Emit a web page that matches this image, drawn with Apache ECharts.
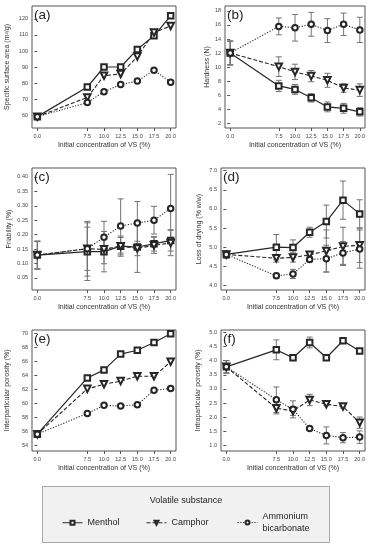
<!DOCTYPE html>
<html><head><meta charset="utf-8">
<script src="https://cdn.jsdelivr.net/npm/echarts@6/dist/echarts.min.js"></script>
<style>html,body{margin:0;padding:0;background:#fff}#c{width:372px;height:550px}</style>
</head><body><div id="c"></div>
<script>
// ---------- data ----------
const conc = [0, 7.5, 10, 12.5, 15, 17.5, 20];
const xTicks = [0, 7.5, 10, 12.5, 15, 17.5, 20];
const names = ['Menthol', 'Camphor', 'Ammonium\nbicarbonate'];

// (a) Specific surface area
const ssaMenthol = [59, 77.5, 90, 90, 101, 109.5, 122];
const ssaCamphor = [59, 71, 84.6, 85.6, 96.5, 111.5, 115.6];
const ssaAmmonium = [59, 67.8, 74.6, 79, 81.2, 88, 80.5];
const ssaTicks = [60, 70, 80, 90, 100, 110, 120];

// (b) Hardness
const hardMenthol = [12, 7.3, 6.8, 5.6, 4.3, 4.1, 3.6];
const hardMentholErr = [1.7, 0.8, 0.7, 0.6, 0.7, 0.7, 0.6];
const hardCamphor = [12, 10.05, 9.3, 8.7, 8.1, 7.0, 6.7];
const hardCamphorErr = [1.7, 1.4, 1.1, 0.8, 1.0, 0.6, 0.9];
const hardAmmonium = [12, 15.8, 15.6, 16.1, 15.2, 16.1, 15.3];
const hardAmmoniumErr = [1.7, 1.2, 1.9, 1.7, 1.7, 1.6, 1.8];
const hardTicks = [2, 4, 6, 8, 10, 12, 14, 16, 18];

// (c) Friability
const friMenthol = [0.129, 0.141, 0.141, 0.160, 0.157, 0.168, 0.180];
const friMentholErr = [0.048, 0.100, 0.070, 0.030, 0.088, 0.025, 0.037];
const friCamphor = [0.129, 0.151, 0.149, 0.160, 0.152, 0.163, 0.171];
const friCamphorErr = [0.048, 0.095, 0.050, 0.035, 0.025, 0.028, 0.044];
const friAmmonium = [0.129, 0.151, 0.191, 0.230, 0.240, 0.250, 0.291];
const friAmmoniumErr = [0.048, 0.075, 0.055, 0.094, 0.075, 0.048, 0.118];
const friTicks = [0.05, 0.10, 0.15, 0.20, 0.25, 0.30, 0.35, 0.40];

// (d) Loss of drying
const lodMenthol = [4.81, 5.00, 4.99, 5.39, 5.67, 6.23, 5.87];
const lodMentholErr = [0.09, 0.33, 0.20, 0.13, 0.43, 0.50, 0.37];
const lodCamphor = [4.81, 4.71, 4.73, 4.80, 4.90, 5.02, 5.05];
const lodCamphorErr = [0.09, 0.10, 0.12, 0.05, 0.55, 0.50, 0.45];
const lodAmmonium = [4.81, 4.25, 4.30, 4.68, 4.70, 4.85, 4.95];
const lodAmmoniumErr = [0.09, 0.07, 0.12, 0.07, 0.35, 0.30, 0.50];
const lodTicks = [4.0, 4.5, 5.0, 5.5, 6.0, 6.5, 7.0];

// (e) Interparticular porosity
const interMenthol = [55.6, 63.6, 64.75, 67.0, 67.55, 68.65, 69.9];
const interCamphor = [55.6, 62.05, 62.7, 63.15, 63.85, 63.85, 65.9];
const interAmmonium = [55.6, 58.55, 59.7, 59.6, 59.8, 61.85, 62.1];
const interTicks = [54, 56, 58, 60, 62, 64, 66, 68, 70];

// (f) Intraparticular porosity
const intraMenthol = [3.78, 4.38, 4.10, 4.64, 4.10, 4.70, 4.34];
const intraMentholErr = [0.22, 0.35, 0.05, 0.19, 0.03, 0.04, 0.03];
const intraCamphor = [3.78, 2.32, 2.22, 2.61, 2.46, 2.38, 1.81];
const intraCamphorErr = [0.22, 0.20, 0.15, 0.20, 0.05, 0.05, 0.20];
const intraAmmonium = [3.78, 2.62, 2.28, 1.60, 1.36, 1.28, 1.30];
const intraAmmoniumErr = [0.22, 0.45, 0.30, 0.05, 0.30, 0.18, 0.22];
const intraTicks = [1.0, 1.5, 2.0, 2.5, 3.0, 3.5, 4.0, 4.5, 5.0];

// ---------- layout / style ----------
const FONT = 'Liberation Sans, Arial, sans-serif';
const panels = [
  {lab:'(a)', grid:{left:32, top:6, width:144, height:122}, ymin:51.9, ymax:128.1, ticks:ssaTicks, dec:0,
   yname:'Specific surface area (m²/g)', gap:21,
   vals:[ssaMenthol, ssaCamphor, ssaAmmonium], errs:null},
  {lab:'(b)', grid:{left:225, top:6, width:140, height:122}, ymin:1.29, ymax:18.71, ticks:hardTicks, dec:0,
   yname:'Hardness (N)', gap:7,
   vals:[hardMenthol, hardCamphor, hardAmmonium], errs:[hardMentholErr, hardCamphorErr, hardAmmoniumErr]},
  {lab:'(c)', grid:{left:32, top:168, width:144, height:122}, ymin:0.008, ymax:0.431, ticks:friTicks, dec:2,
   yname:'Friability (%)', gap:19,
   vals:[friMenthol, friCamphor, friAmmonium], errs:[friMentholErr, friCamphorErr, friAmmoniumErr]},
  {lab:'(d)', grid:{left:221, top:168, width:144, height:122}, ymin:3.88, ymax:7.07, ticks:lodTicks, dec:1,
   yname:'Loss of drying (% w/w)', gap:18,
   vals:[lodMenthol, lodCamphor, lodAmmonium], errs:[lodMentholErr, lodCamphorErr, lodAmmoniumErr]},
  {lab:'(e)', grid:{left:32, top:330, width:144, height:121}, ymin:53.2, ymax:70.43, ticks:interTicks, dec:0,
   yname:'Interparticular porosity (%)', gap:21,
   vals:[interMenthol, interCamphor, interAmmonium], errs:null},
  {lab:'(f)', grid:{left:221, top:330, width:144, height:121}, ymin:0.81, ymax:5.08, ticks:intraTicks, dec:1,
   yname:'Intraparticular porosity (%)', gap:19,
   vals:[intraMenthol, intraCamphor, intraAmmonium], errs:[intraMentholErr, intraCamphorErr, intraAmmoniumErr]}
];

const seriesStyle = [
  {symbol:'emptyRect', symbolSize:5.5, symbolRotate:0, lineType:'solid', lw:1.2},
  {symbol:'emptyTriangle', symbolSize:6.5, symbolRotate:180, lineType:[4, 2], lw:1.1},
  {symbol:'emptyCircle', symbolSize:5.5, symbolRotate:0, lineType:[1.2, 1.6], lw:1.1}
];
const LINE = '#262626';
const ERR = '#737373';

function errRender(params, api) {
  const x = api.value(0), lo = api.value(1), hi = api.value(2);
  const p1 = api.coord([x, hi]), p2 = api.coord([x, lo]);
  const w = 3;
  const st = {stroke: ERR, lineWidth: 1};
  return {type:'group', children:[
    {type:'line', shape:{x1:p1[0], y1:p1[1], x2:p2[0], y2:p2[1]}, style:st},
    {type:'line', shape:{x1:p1[0]-w, y1:p1[1], x2:p1[0]+w, y2:p1[1]}, style:st},
    {type:'line', shape:{x1:p2[0]-w, y1:p2[1], x2:p2[0]+w, y2:p2[1]}, style:st}
  ]};
}

const grids = [], xAxes = [], yAxes = [], series = [], titles = [];
panels.forEach((p, i) => {
  grids.push(Object.assign({show:true, borderColor:'#555', borderWidth:1, backgroundColor:'transparent'}, p.grid));
  xAxes.push({
    type:'value', gridIndex:i, min:-0.8, max:20.8,
    axisLine:{show:false}, splitLine:{show:false},
    axisTick:{show:true, inside:false, length:3, customValues:xTicks, lineStyle:{color:'#555'}},
    axisLabel:{customValues:xTicks, formatter:v => v.toFixed(1), fontSize:5.5, color:'#444', margin:5, fontFamily:FONT},
    name:'Initial concentration of VS (%)', nameLocation:'middle', nameGap:14,
    nameTextStyle:{fontSize:7, color:'#333', fontFamily:FONT}
  });
  yAxes.push({
    type:'value', gridIndex:i, min:p.ymin, max:p.ymax,
    axisLine:{show:false}, splitLine:{show:false},
    axisTick:{show:true, inside:false, length:3, customValues:p.ticks, lineStyle:{color:'#555'}},
    axisLabel:{customValues:p.ticks, formatter:v => v.toFixed(p.dec), fontSize:5.5, color:'#444', margin:4, fontFamily:FONT},
    name:p.yname, nameLocation:'middle', nameGap:p.gap,
    nameTextStyle:{fontSize:7, color:'#333', fontFamily:FONT}
  });
  titles.push({text:p.lab, left:p.grid.left + 2, top:p.grid.top + 2, padding:0,
    textStyle:{fontSize:13.5, fontWeight:'normal', color:'#222', fontFamily:FONT}});
  if (p.errs) {
    p.vals.forEach((vals, k) => {
      series.push({
        type:'custom', xAxisIndex:i, yAxisIndex:i, renderItem:errRender, z:1, silent:true,
        encode:{x:0, y:[1, 2]},
        data: conc.map((c, j) => [c, vals[j] - p.errs[k][j], vals[j] + p.errs[k][j]])
      });
    });
  }
  p.vals.forEach((vals, k) => {
    const s = seriesStyle[k];
    series.push({
      type:'line', name:names[k], xAxisIndex:i, yAxisIndex:i, z:3,
      data: conc.map((c, j) => [c, vals[j]]),
      symbol:s.symbol, symbolSize:s.symbolSize, symbolRotate:s.symbolRotate, showAllSymbol:true,
      lineStyle:{color:LINE, width:s.lw, type:s.lineType},
      itemStyle:{color:LINE, borderColor:LINE, borderWidth:1}
    });
  });
});

const legendBase = {
  orient:'horizontal', itemWidth:20, itemHeight:5, itemGap:0, padding:0,
  lineStyle:{width:1},
  textStyle:{fontSize:9, color:'#222', fontFamily:FONT, lineHeight:11.5}
};
const legends = [
  Object.assign({data:[names[0]], left:62, top:517}, legendBase),
  Object.assign({data:[names[1]], left:146, top:517}, legendBase),
  Object.assign({data:[names[2]], left:237, top:511}, legendBase)
];

const chart = echarts.init(document.getElementById('c'), null, {renderer:'canvas'});
chart.setOption({
  animation:false,
  backgroundColor:'#fff',
  title:titles,
  grid:grids, xAxis:xAxes, yAxis:yAxes, series:series,
  legend:legends,
  graphic:[
    {type:'rect', left:42, top:486, z:-1, shape:{width:287, height:56},
     style:{fill:'#f1f1f1', stroke:'#a8a8a8', lineWidth:1}},
    {type:'text', left:'center', top:496, z:5,
     style:{text:'Volatile substance', fontSize:9, fill:'#222', fontFamily:FONT}}
  ]
});
</script></body></html>
